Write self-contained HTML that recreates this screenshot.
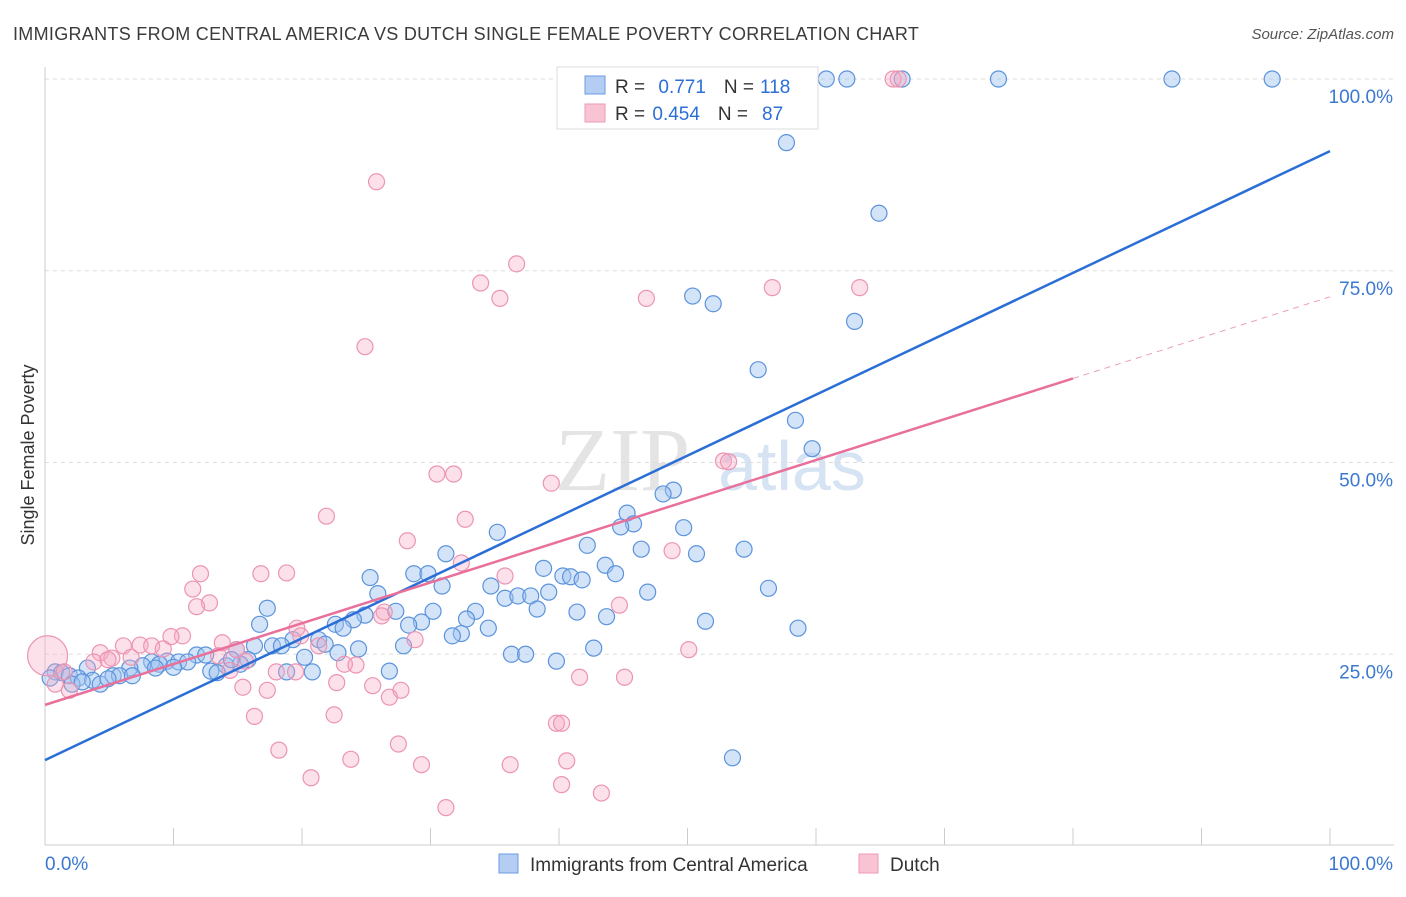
<!DOCTYPE html>
<html><head><meta charset="utf-8"><style>
body{margin:0;background:#fff;font-family:"Liberation Sans",sans-serif}
</style></head><body>
<svg id="chart" width="1406" height="892" xmlns="http://www.w3.org/2000/svg" style="font-family:'Liberation Sans',sans-serif">
<text x="13" y="40" font-size="18" fill="#3b3b3b" letter-spacing="0.3">IMMIGRANTS FROM CENTRAL AMERICA VS DUTCH SINGLE FEMALE POVERTY CORRELATION CHART</text>
<text x="1394" y="39" font-size="15" fill="#555" text-anchor="end" font-style="italic">Source: ZipAtlas.com</text>
<text transform="translate(34,455) rotate(-90)" font-size="18" fill="#333" text-anchor="middle">Single Female Poverty</text>
<text x="555" y="490" font-size="90" fill="#e4e4e4" font-family="Liberation Serif">ZIP</text>
<text x="718" y="490" font-size="70" fill="#d5e3f3">atlas</text>
<g id="grid"></g><g id="axes"></g><g id="pts"></g><g id="lines"></g>
<g>
<rect x="557" y="67" width="261" height="62" fill="#fff" stroke="#ddd"/>
<rect x="585" y="76" width="20" height="18" fill="#b3cdf3" stroke="#6a9be0"/>
<rect x="585" y="104" width="20" height="18" fill="#f8c4d4" stroke="#ec9ab6"/>
<text x="615" y="93" font-size="19" fill="#333">R = <tspan fill="#2b6fd6" dx="8">0.771</tspan><tspan fill="#333" dx="18">N =</tspan><tspan fill="#2b6fd6" dx="6">118</tspan></text>
<text x="615" y="120" font-size="19" fill="#333">R = <tspan fill="#2b6fd6" dx="2">0.454</tspan><tspan fill="#333" dx="18">N =</tspan><tspan fill="#2b6fd6" dx="14">87</tspan></text>
</g>
<g>
<rect x="499" y="854" width="19" height="19" fill="#b3cdf3" stroke="#6a9be0"/>
<text x="530" y="871" font-size="19" fill="#333">Immigrants from Central America</text>
<rect x="859" y="854" width="19" height="19" fill="#f8c4d4" stroke="#ec9ab6"/>
<text x="890" y="871" font-size="19" fill="#333">Dutch</text>
</g>
</svg>
<script>
const yTicks=[25,50,75,100];
const yTickLabels=["25.0%","50.0%","75.0%","100.0%"];
const xTicks=[0,10,20,30,40,50,60,70,80,90,100];
const blueX=[60.8,62.4,66.7,74.2,87.7,95.5,57.7,64.9,50.4,52,63,55.5,58.4,59.7,48.9,48.1,45.3,45.8,44.8,49.7,35.2,46.4,54.4,50.7,42.2,31.2,38.8,43.6,44.4,40.3,40.9,41.8,28.7,29.8,25.3,30.9,34.7,56.3,25.9,39.2,46.9,35.8,36.8,37.8,17.3,27.3,30.2,33.5,24.9,38.3,41.4,43.7,32.8,16.7,51.4,22.6,24,29.3,28.3,23.2,34.5,58.6,32.4,31.7,19.3,21.3,21.8,16.3,17.7,18.4,27.9,24.4,42.7,22.8,36.3,37.4,14.9,20.2,11.8,12.5,39.8,15.8,9.5,10.4,11.1,8.3,8.9,15.2,14.1,14.5,7.6,6.6,8.6,10,18.8,20.8,12.9,13.4,26.8,3.3,5.3,5.8,6.8,0.8,1.3,1.9,2.6,3.7,4.3,4.9,0.4,2.1,2.9,53.5];
const blueY=[100,100,100,100,100,100,91.7,82.5,71.7,70.7,68.4,62.1,55.5,51.8,46.4,45.9,43.4,42,41.6,41.5,40.9,38.7,38.7,38.1,39.2,38.1,36.2,36.6,35.5,35.2,35.1,34.7,35.5,35.5,35,33.9,33.9,33.6,32.9,33.1,33.1,32.3,32.6,32.6,31,30.6,30.6,30.6,30.1,30.9,30.5,29.9,29.6,28.9,29.3,28.9,29.5,29.2,28.8,28.4,28.4,28.4,27.7,27.4,26.9,26.9,26.3,26.1,26.1,26.1,26.1,25.7,25.8,25.2,25,25,25.6,24.6,24.9,24.9,24.1,24.3,24.1,24,24,24,23.7,23.7,23.5,24.3,23.5,23.2,23.2,23.3,22.7,22.7,22.8,22.6,22.8,23.2,22.2,22.2,22.2,22.7,22.6,22.2,21.9,21.6,21.1,21.8,21.9,21.1,21.4,11.5];
const pinkX=[0.2,66,66.4,25.8,36.7,33.9,35.4,46.8,56.6,63.4,24.9,30.5,31.8,52.8,53.2,39.4,21.9,32.7,28.2,48.8,32.4,12.1,16.8,18.8,35.8,11.5,12.8,11.8,44.7,26.4,26.2,19.6,19.9,10.7,9.8,28.8,7.4,6.1,8.3,9.2,13.8,14.9,21.3,50.1,4.3,5.2,6.7,13.5,15.6,3.8,4.9,23.3,24.2,14.4,18,19.5,1.5,41.6,45.1,22.7,25.5,15.4,17.3,27.7,0.8,1.9,26.8,16.3,22.5,39.8,40.2,18.2,27.5,23.8,29.3,36.2,40.6,20.7,40.2,43.3,31.2];
const pinkY=[24.8,100,100,86.6,75.9,73.4,71.4,71.4,72.8,72.8,65.1,48.5,48.5,50.2,50.1,47.3,43,42.6,39.8,38.5,36.9,35.5,35.5,35.6,35.2,33.5,31.7,31.2,31.4,30.5,30,28.4,27.4,27.4,27.3,26.9,26.2,26.1,26.1,25.7,26.5,25.6,26.1,25.6,25.2,24.5,24.6,24.8,24.1,24,24.3,23.7,23.6,22.9,22.7,22.7,22.7,22,22,21.3,20.9,20.7,20.3,20.3,21.1,20.3,19.4,16.9,17.1,16,16,12.5,13.3,11.3,10.6,10.6,11.1,8.9,8,6.9,5];
const blueLine=[11.2,90.6];
const pinkLine=[18.4,71.6];
const pinkSolidEnd=80;
const NS="http://www.w3.org/2000/svg";
const sx=v=>45+v*12.85, sy=v=>846-v*7.67;
function mk(t,a,p){const e=document.createElementNS(NS,t);for(const k in a)e.setAttribute(k,a[k]);p.appendChild(e);return e;}
const grid=document.getElementById('grid'),axes=document.getElementById('axes'),pts=document.getElementById('pts'),lines=document.getElementById('lines');
yTicks.forEach((t,i)=>{
 const g=mk('line',{x1:45,x2:1394,y1:sy(t),y2:sy(t),stroke:'#ddd','stroke-dasharray':'4,4'},grid);
 
 
 const l=mk('text',{x:1393,y:sy(t)+24,'font-size':19,fill:'#3b78d0','text-anchor':'end'},axes);
 l.textContent=yTickLabels[i];
 
 
});
const ax=mk('line',{x1:45,x2:1394,y1:845,y2:845,stroke:'#ccc'},axes);


const ay=mk('line',{x1:45,x2:45,y1:67,y2:845,stroke:'#ccc'},axes);


xTicks.forEach(t=>{
 const k=mk('line',{x1:sx(t),x2:sx(t),y1:828,y2:845,stroke:'#ccc'},axes);
 
 
});
const x0=mk('text',{x:45,y:870,'font-size':19,fill:'#3b78d0'},axes);x0.textContent='0.0%';


const x1=mk('text',{x:1393,y:870,'font-size':19,fill:'#3b78d0','text-anchor':'end'},axes);x1.textContent='100.0%';


blueX.forEach((x,i)=>{
 const c=mk('circle',{cx:sx(x),cy:sy(blueY[i]),r:8,fill:'rgba(160,196,240,0.45)',stroke:'#5b93dc','stroke-width':1.2},pts);
 
 
});
pinkX.forEach((x,i)=>{
 const r=(i===0)?20:8;
 const c=mk('circle',{cx:sx(x),cy:sy(pinkY[i]),r:r,fill:'rgba(246,170,196,0.35)',stroke:'#ec94b3','stroke-width':1.2},pts);
 
 
});
const bl=mk('line',{x1:sx(0),y1:sy(blueLine[0]),x2:sx(100),y2:sy(blueLine[1]),stroke:'#2b6fd6','stroke-width':2.5},lines);


const pe=pinkLine[0]+(pinkLine[1]-pinkLine[0])*pinkSolidEnd/100;
const pl=mk('line',{x1:sx(0),y1:sy(pinkLine[0]),x2:sx(pinkSolidEnd),y2:sy(pe),stroke:'#e8709a','stroke-width':2.5},lines);


const pd=mk('line',{x1:sx(pinkSolidEnd),y1:sy(pe),x2:sx(100),y2:sy(pinkLine[1]),stroke:'#e8a0b8','stroke-width':1,'stroke-dasharray':'6,5'},lines);


</script>
</body></html>
